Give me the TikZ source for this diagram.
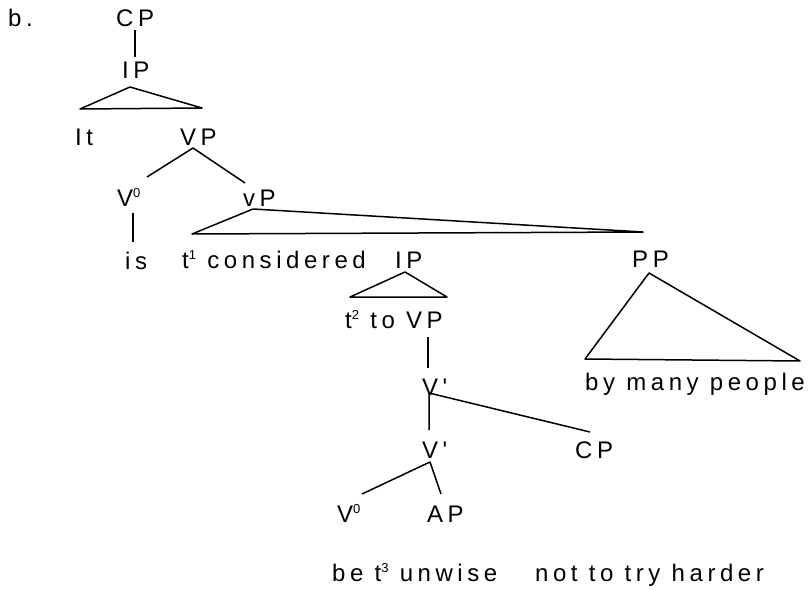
\documentclass[tikz,border=0pt]{standalone}
\usepackage{fontspec}
\setmainfont{Liberation Sans}[LetterSpace=19,Ligatures=TeXOff]
\newcommand{\sups}[1]{\raisebox{9pt}{\fontsize{13}{13}\selectfont #1}}
\newcommand{\vbarmark}{'}
\begin{document}
\begin{tikzpicture}[x=1pt,y=-1pt,
  lbl/.style={anchor=base west,inner sep=0pt,font=\fontsize{24}{28}\selectfont},
  br/.style={line width=1.5pt,line join=round}]
\useasboundingbox (0,0) rectangle (811,589);
% labels
\node[lbl] (b) at (8,27) {b.};
\node[lbl] (cp1) at (116,27) {CP};
\node[lbl] (ip1) at (122,78) {IP};
\node[lbl] (it) at (75,145) {It};
\node[lbl] (vp1) at (180,145) {VP};
\node[lbl] (v0a) at (117,206) {V\sups{0}};
\node[lbl] (vP) at (243,206) {vP};
\node[lbl] (is) at (125,269) {is};
\node[lbl] (cons) at (182,268) {t\sups{1} considered};
\node[lbl] (ip2) at (395,268) {IP};
\node[lbl] (pp) at (632,267) {PP};
\node[lbl] (tovp) at (345,328) {t\sups{2} to VP};
\node[lbl] (vbar1) at (422,395) {V\vbarmark};
\node[lbl] (vbar2) at (422,458) {V\vbarmark};
\node[lbl] (cp2) at (575,458) {CP};
\node[lbl] (v0b) at (337,522) {V\sups{0}};
\node[lbl] (ap) at (427,522) {AP};
\node[lbl] (unwise) at (332,581) {be t\sups{3} unwise};
\node[lbl] (harder) at (535,581) {not to try harder};
\node[lbl] (people) at (585,390) {by many people};
% connector end points
\coordinate (cpB) at (135,30);   \coordinate (ipT) at (135,57);
\coordinate (ipA) at (130,87);   \coordinate (ipL) at (80,109);  \coordinate (ipR) at (202,108);
\coordinate (vpA) at (193,148);  \coordinate (v0T) at (147,177); \coordinate (vPT) at (245,183);
\coordinate (v0B) at (133,213);  \coordinate (isT) at (133,242);
\coordinate (vPA) at (253,209);  \coordinate (vPL) at (192,234); \coordinate (vPR) at (643,232);
\coordinate (ip2A) at (405,272); \coordinate (ip2L) at (350,297); \coordinate (ip2R) at (447,297);
\coordinate (tovpB) at (428,337); \coordinate (vb1T) at (428,368);
\coordinate (vb1A) at (429,393); \coordinate (vb2T) at (429,430); \coordinate (cp2T) at (590,432);
\coordinate (vb2A) at (430,462); \coordinate (v0bT) at (362,494); \coordinate (apT) at (441,494);
\coordinate (ppA) at (649,273); \coordinate (ppL) at (585,359); \coordinate (ppR) at (800,361);
% branches
\draw[br] (cpB) -- (ipT);
\draw[br] (ipA) -- (ipL) -- (ipR) -- cycle;
\draw[br] (v0T) -- (vpA) -- (vPT);
\draw[br] (v0B) -- (isT);
\draw[br] (vPA) -- (vPL) -- (vPR) -- cycle;
\draw[br] (ip2A) -- (ip2L) -- (ip2R) -- cycle;
\draw[br] (tovpB) -- (vb1T);
\draw[br] (vb2T) -- (vb1A) -- (cp2T);
\draw[br] (v0bT) -- (vb2A) -- (apT);
\draw[br] (ppA) -- (ppL) -- (ppR) -- cycle;
\end{tikzpicture}
\end{document}
